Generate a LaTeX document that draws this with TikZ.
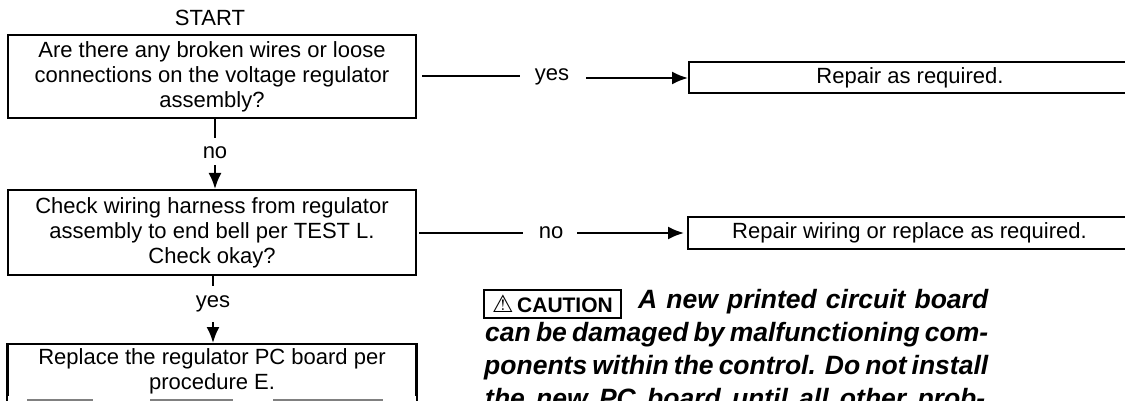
\documentclass[tikz,border=0pt]{standalone}
\usepackage{fontspec}
\setmainfont{Liberation Sans}
\newfontfamily\symfont{DejaVu Sans}
\usetikzlibrary{positioning,arrows.meta}

\tikzset{
  stepbox/.style={draw,line width=2pt,minimum width=408pt,align=center,inner sep=0pt,font=\fontsize{22}{25}\selectfont},
  repairbox/.style={draw,line width=2pt,minimum height=31pt,inner sep=0pt,font=\fontsize{22}{25}\selectfont},
  answer/.style={inner sep=0pt,font=\fontsize{22}{25}\selectfont},
  flow/.style={line width=2pt},
  flowarrow/.style={line width=2pt,-{Latex[length=16pt,width=13pt]}},
  cautionline/.style={anchor=west,inner sep=0pt,font=\fontsize{26.5}{30}\selectfont\bfseries\itshape},
}

\begin{document}
\begin{tikzpicture}[x=1pt,y=-1pt]
\useasboundingbox (0,0) rectangle (1125,401);

% left column
\node[answer] (start) at (210,18) {START};
\node[stepbox,minimum height=83pt] (wires) at (212,76.5) {Are there any broken wires or loose\\connections on the voltage regulator\\assembly?};
\node[answer] (no1) at (215,153) {no};
\node[stepbox,minimum height=85pt] (harness) at (212,232.5) {Check wiring harness from regulator\\assembly to end bell per TEST L.\\Check okay?};
\node[answer] (yes2) at (213,304) {yes};
\node[stepbox,minimum height=55pt,anchor=north] (board) at (212,343) {Replace the regulator PC board per\\procedure E.};

% right column
\node[answer] (yes1) at (552,76.5) {yes};
\node[answer] (no2) at (551,232.5) {no};
\node[repairbox,minimum width=442pt,anchor=west] (repair) at (688,78) {Repair as required.};
\node[repairbox,minimum width=443pt,minimum height=32pt,anchor=west] (rewire) at (687,233) {Repair wiring or replace as required.};

% connectors
\draw[flow,shorten >=9pt] (wires.south -| no1) -- (no1.north);
\draw[flowarrow,shorten <=6pt] (no1.south) -- (no1 |- harness.north);
\draw[flow,shorten >=10pt] (harness.south -| yes2) -- (yes2.north);
\draw[flowarrow,shorten <=10pt] (yes2.south) -- (yes2 |- board.north);
\draw[flow,shorten <=5pt,shorten >=15pt] (wires.east) -- (yes1.west);
\draw[flowarrow,shorten <=17pt] (yes1.east |- repair.west) -- (repair.west);
\draw[flow,shorten <=2pt,shorten >=16pt] (harness.east) -- (no2.west);
\draw[flowarrow,shorten <=14pt,shorten >=3pt] (no2.east |- rewire.west) -- (rewire.west);

% broken lower edge of the last box
\fill[white] (5,396) rectangle (420,410);
\foreach \xa/\xb in {27/93,150/233,273/383}
  \draw[gray,line width=1.5pt] (\xa,400) -- (\xb,400);
\draw[line width=2pt] (board.north west) -- (board.north west |- 0,401);
\draw[line width=2pt] (board.north east) -- (board.north east |- 0,401);

% caution text
\node[draw,line width=2pt,inner sep=0pt,minimum width=137pt,minimum height=28pt,anchor=west,font=\fontsize{21}{22}\selectfont\bfseries] (caution) at (483,304) {{\symfont\bfseries\fontsize{24}{24}\selectfont\char"26A0}\,CAUTION};
\node[cautionline] (line1) at (638,302) {\makebox[350pt][s]{A new printed circuit board}};
\node[cautionline] (line2) at (485,335) {\makebox[503pt][s]{can be damaged by malfunctioning com-}};
\node[cautionline] (line3) at (484,368) {\makebox[504pt][s]{ponents within the control. Do not install}};
\node[cautionline] (line4) at (485,401) {\makebox[500pt][s]{the new PC board until all other prob-}};
\end{tikzpicture}
\end{document}
